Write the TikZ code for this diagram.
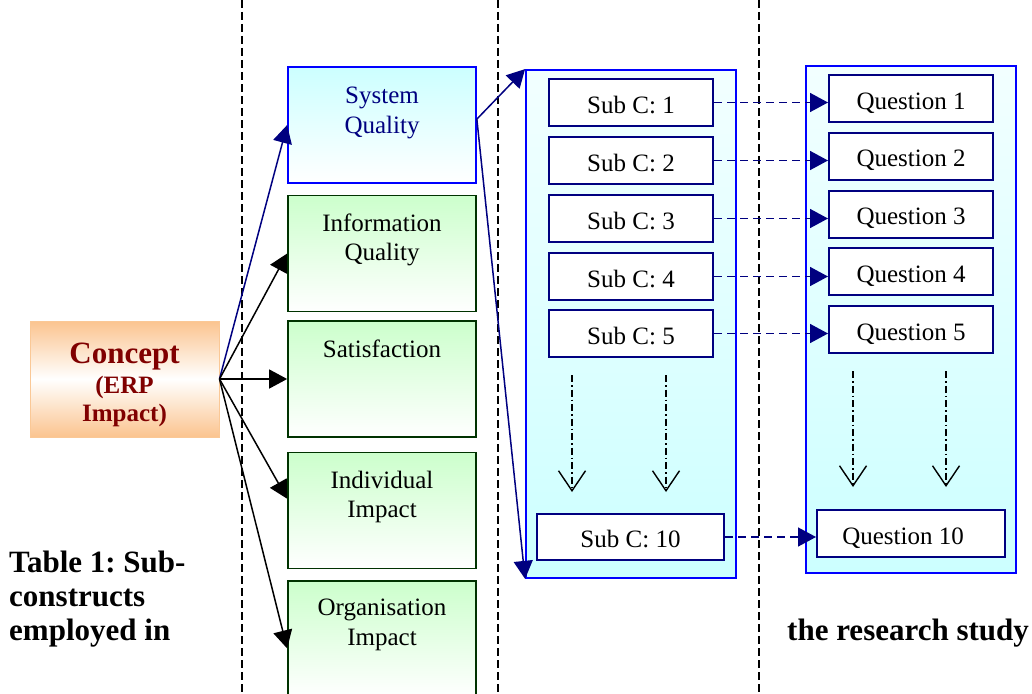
\documentclass[tikz,border=0pt]{standalone}
\usepackage{fontspec}
\setmainfont{Liberation Serif}
\usetikzlibrary{calc,positioning,arrows.meta}
\frenchspacing

\definecolor{navyblue}{RGB}{0,0,128}
\definecolor{brightblue}{RGB}{0,0,255}
\definecolor{paleCyan}{RGB}{204,255,255}
\definecolor{paleGreen}{RGB}{204,255,204}
\definecolor{darkGreen}{RGB}{0,51,0}
\definecolor{paleOrange}{RGB}{251,196,143}
\definecolor{conceptEdge}{RGB}{250,200,150}
\definecolor{darkRed}{RGB}{128,0,0}

\tikzset{
  divider/.style={line width=1.3pt, dash pattern=on 8pt off 4pt},
  conceptbox/.style={draw=conceptEdge, line width=1pt, top color=paleOrange, bottom color=paleOrange, middle color=white, minimum width=189pt, minimum height=116pt, inner sep=0pt},
  conceptfont/.style={text=darkRed, font=\bfseries\fontsize{31}{34}\selectfont, inner sep=0pt},
  constructbox/.style={draw=darkGreen, line width=1.7pt, top color=paleGreen, bottom color=white, minimum width=188pt, minimum height=116pt, inner sep=0pt},
  systembox/.style={constructbox, draw=brightblue, top color=paleCyan},
  boxtext/.style={font=\fontsize{25}{29.5}\selectfont, align=center, inner sep=0pt},
  groupbox/.style={draw=brightblue, line width=1.8pt, top color=paleCyan!25!white, bottom color=paleCyan, minimum width=210pt, inner sep=0pt},
  subbox/.style={draw=navyblue, line width=2pt, fill=white, minimum width=164pt, minimum height=47pt, inner sep=0pt, text height=21pt, text depth=0pt, font=\fontsize{25}{29}\selectfont},
  navyarrow/.style={draw=navyblue, line width=1.5pt, -{Triangle[length=18pt,width=19pt]}, navyblue},
  blackarrow/.style={line width=1.5pt, -{Triangle[length=18pt,width=19pt]}},
  linkarrow/.style={navyarrow, dash pattern=on 8pt off 5pt},
  skiparrow/.style={line width=1.2pt, dash pattern=on 7pt off 3pt on 1.5pt off 3pt, -{Straight Barb[length=20pt,width=27pt,line width=1.4pt]}},
  captionfont/.style={font=\bfseries\fontsize{31}{34}\selectfont, inner sep=0pt}
}

\begin{document}
\begin{tikzpicture}[x=1pt, y=-1pt]
  %%%%% START %%%%%
  \useasboundingbox (0,0) rectangle (1032,693);
  \clip (0,0) rectangle (1032,693);

  \foreach \dx in {242, 498, 759}
    \draw[divider] (\dx,0) -- (\dx,693);

  % concept
  \node[conceptbox] (cp) at (124.5,379) {};
  \node[conceptfont, anchor=base] (cpname) at (124.5,363) {Concept};
  \node[conceptfont, font=\bfseries\fontsize{25}{28}\selectfont, align=center, below=0pt of cpname.base, yshift=-13pt] (cpsub) {(ERP\\Impact)};

  % constructs
  \node[systembox] (sq) at (382,125) {};
  \node[constructbox] (iq) at (382,253.5) {};
  \node[constructbox] (sat) at (382,379) {};
  \node[constructbox] (ind) at (382,510.5) {};
  \node[constructbox] (org) at (382,639) {};
  \node[boxtext, text=navyblue, below=21pt of sq.north] (sqtext) {System\\Quality};
  \node[boxtext, below=19pt of iq.north] (iqtext) {Information\\Quality};
  \node[boxtext, below=20pt of sat.north] (sattext) {Satisfaction};
  \node[boxtext, below=19pt of ind.north] (indtext) {Individual\\Impact};
  \node[boxtext, below=19pt of org.north] (orgtext) {Organisation\\Impact};

  % sub-constructs and questions
  \node[groupbox, minimum height=508pt] (mid) at (631,324) {};
  \node[groupbox, minimum height=507pt] (qs) at (911,319.5) {};
  \foreach \i/\y in {1/102.5, 2/160.5, 3/218.5, 4/276.5, 5/333.5}
    \node[subbox] (s\i) at (631,\y) {Sub C: \i};
  \node[subbox, minimum width=187pt, minimum height=46pt] (s10) at (630.5,537) {Sub C: 10};
  \foreach \i/\y in {1/98.5, 2/156.3, 3/214.1, 4/271.9, 5/329.7}
    \node[subbox] (q\i) at (911,\y) {Question \i};
  \node[subbox, minimum width=188pt] (q10) at (911,533.5) {Question 10\hspace*{16pt}};

  % concept arrows
  \draw[navyarrow] (cp.east) -- (sq.west);
  \draw[blackarrow] (cp.east) -- (iq.west);
  \draw[blackarrow] (cp.east) -- (cp.east -| sat.west);
  \draw[blackarrow] (cp.east) -- ($(ind.north west)!0.4!(ind.south west)$);
  \draw[blackarrow] (cp.east) -- ($(org.north west)!0.58!(org.south west)$);

  \coordinate (sqout) at ($(sq.north east)!0.45!(sq.south east)$);
  \draw[navyarrow] (sqout) -- (mid.north west);
  \draw[navyarrow] (sqout) -- (mid.south west);

  \foreach \i in {1,...,5}
    \draw[linkarrow] (s\i.east) -- (s\i.east -| q\i.west);
  \draw[linkarrow] (s10.east) -- (s10.east -| q10.west);

  % continuation
  \foreach \n/\dx/\ya/\yb in {a/572/375/492, b/666/375/492, c/853/371/487, d/946/371/487} {
    \coordinate (top\n) at (\dx,\ya);
    \coordinate (bot\n) at (\dx,\yb);
    \draw[skiparrow] (top\n) -- (bot\n);
  }

  % caption
  \node[captionfont, align=left, anchor=north west] (capleft) at (9,551) {Table 1: Sub-\\constructs\\employed in};
  \node[captionfont, anchor=base west] (capright) at (787,640) {the research study};
  %%%%% END %%%%%
\end{tikzpicture}
\end{document}
